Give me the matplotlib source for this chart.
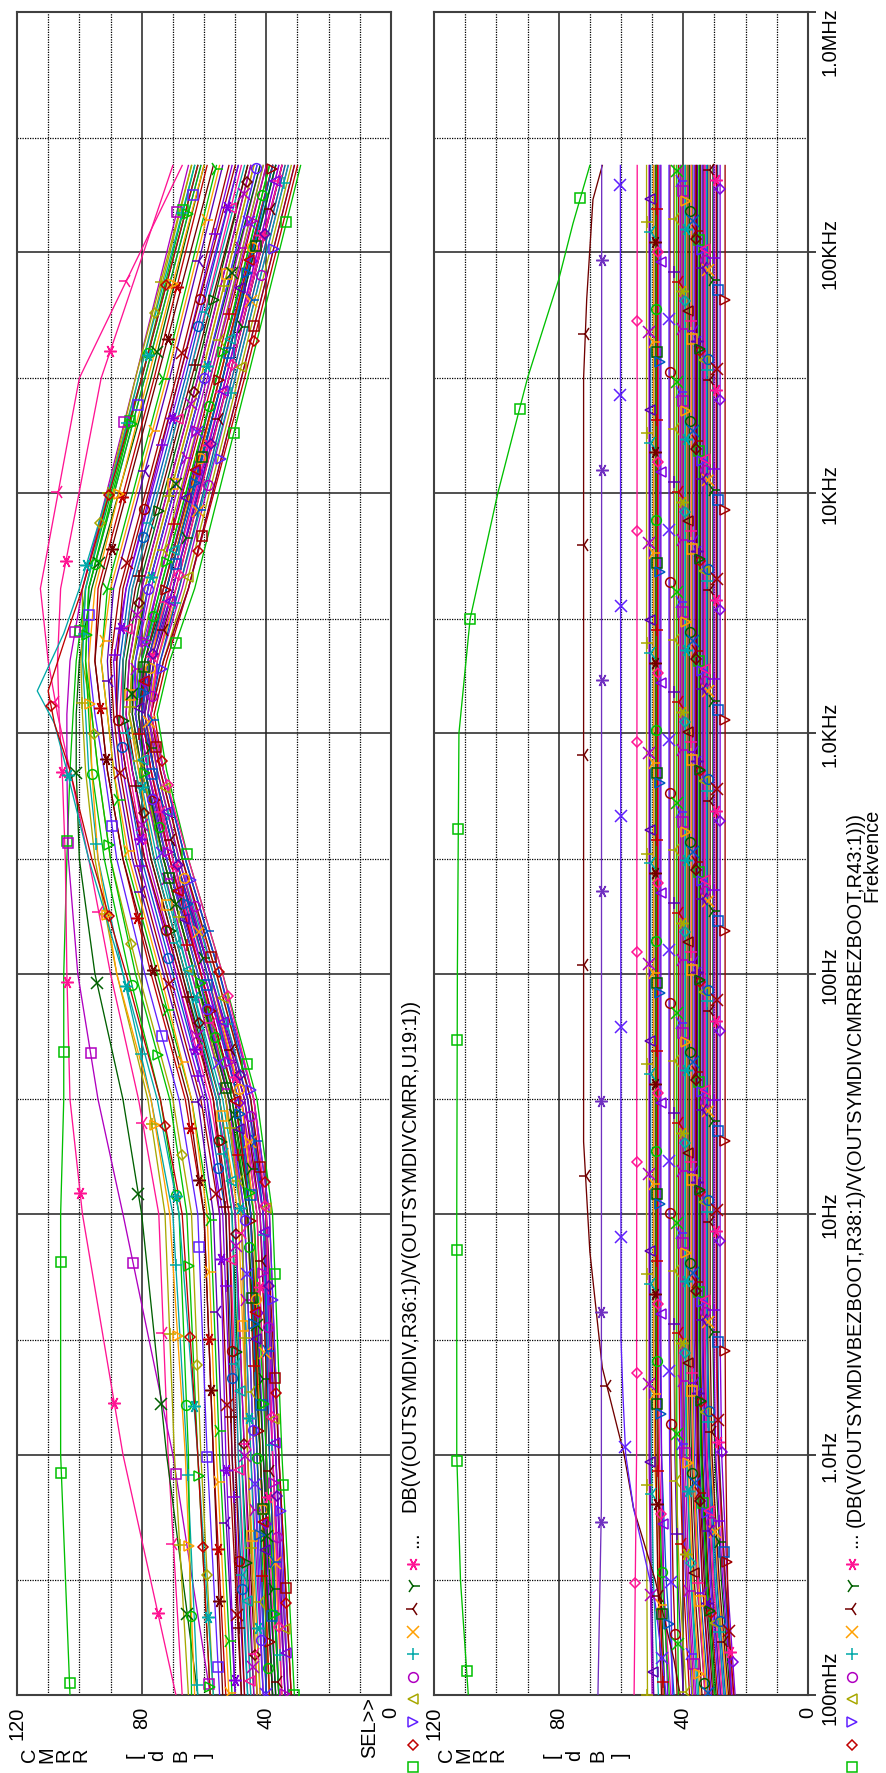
import numpy as np
import matplotlib
matplotlib.use('Agg')
import matplotlib.pyplot as plt
from matplotlib.lines import Line2D
from matplotlib.ticker import NullLocator, FixedLocator
import matplotlib.transforms as mtransforms

plt.rcParams['font.family'] = ['Liberation Sans', 'DejaVu Sans']
FS = 14.4

# ---------------- data: upper plot (CMRR with bootstrap) ----------------
freq_top = [0.1, 1, 10, 30, 100, 300, 700, 1200, 2000, 4000, 30000, 230000]
top_core = [
    [31, 35, 38, 43, 54, 65, 72, 75, 71, 63, 46, 29],
    [32, 36, 39, 44, 55, 66, 73, 76, 72, 65, 47, 30],
    [33, 36, 39, 44, 55, 66, 73, 77, 73, 65, 48, 31],
    [33, 37, 40, 45, 56, 67, 74, 77, 73, 66, 49, 32],
    [34, 38, 41, 46, 57, 67, 74, 78, 74, 67, 50, 33],
    [35, 38, 41, 46, 57, 68, 75, 78, 75, 68, 50, 33],
    [35, 39, 42, 47, 58, 68, 75, 78, 75, 68, 51, 34],
    [36, 39, 42, 47, 58, 69, 76, 79, 76, 69, 52, 35],
    [36, 40, 43, 48, 59, 69, 76, 79, 76, 70, 52, 35],
    [37, 40, 43, 48, 59, 70, 76, 80, 77, 71, 53, 36],
    [37, 41, 44, 49, 60, 70, 77, 80, 77, 71, 54, 37],
    [38, 41, 44, 49, 60, 71, 77, 80, 78, 72, 54, 37],
    [38, 42, 45, 50, 61, 71, 78, 81, 78, 72, 55, 38],
    [38, 42, 45, 50, 61, 72, 78, 81, 79, 73, 56, 38],
    [39, 43, 46, 51, 62, 72, 79, 82, 80, 74, 56, 39],
    [40, 43, 46, 52, 63, 73, 79, 82, 80, 75, 57, 40],
    [40, 44, 47, 52, 63, 73, 79, 82, 81, 75, 58, 41],
    [41, 44, 47, 53, 64, 74, 80, 83, 81, 76, 58, 41],
    [41, 45, 48, 53, 64, 74, 80, 83, 82, 77, 59, 42],
    [42, 45, 48, 54, 65, 75, 81, 84, 82, 78, 60, 43],
    [42, 46, 49, 55, 66, 76, 81, 84, 83, 79, 61, 44],
    [43, 47, 50, 55, 66, 76, 82, 85, 84, 80, 62, 45],
    [44, 48, 51, 56, 67, 77, 83, 86, 85, 81, 63, 46],
    [45, 49, 52, 58, 69, 79, 84, 87, 86, 83, 65, 48],
    [46, 50, 53, 59, 70, 80, 85, 88, 87, 84, 66, 49],
    [47, 51, 54, 60, 71, 81, 86, 88, 89, 85, 68, 51],
    [48, 52, 55, 61, 72, 82, 87, 89, 90, 87, 69, 52],
    [50, 54, 57, 62, 73, 83, 88, 90, 91, 89, 71, 54],
    [51, 55, 58, 64, 75, 85, 89, 91, 93, 91, 73, 56],
    [53, 57, 60, 66, 77, 86, 91, 93, 95, 94, 76, 59],
    [55, 59, 62, 68, 79, 88, 92, 95, 97, 97, 79, 61],
    [57, 61, 64, 70, 81, 90, 94, 96, 99, 99, 81, 64],
    [34, 38, 42, 48, 60, 71, 78, 81, 80, 75, 58, 40],
    [45, 48, 50, 55, 65, 74, 79, 82, 80, 73, 55, 37],
    [39, 42, 44, 48, 58, 68, 75, 79, 77, 72, 55, 38],
    [48, 51, 53, 57, 67, 77, 83, 86, 86, 82, 64, 46],
    [37, 41, 45, 51, 63, 73, 80, 83, 83, 78, 60, 42],
    [43, 46, 48, 52, 61, 70, 77, 80, 78, 71, 53, 35],
    [36, 39, 41, 45, 55, 66, 73, 77, 74, 68, 51, 34],
    [50, 53, 55, 59, 69, 79, 85, 88, 88, 85, 67, 49],
    [32, 36, 40, 45, 56, 67, 74, 77, 73, 65, 48, 31],
    [34, 37, 40, 46, 58, 69, 76, 79, 77, 70, 52, 35],
    [36, 40, 44, 50, 62, 72, 79, 82, 80, 74, 56, 39],
    [39, 42, 45, 50, 61, 71, 77, 80, 79, 73, 55, 38],
    [41, 44, 47, 52, 62, 72, 79, 82, 82, 78, 60, 43],
    [43, 46, 48, 53, 63, 73, 80, 84, 83, 79, 61, 44],
    [44, 47, 50, 56, 68, 78, 83, 85, 84, 80, 62, 45],
    [46, 49, 51, 56, 66, 76, 82, 86, 86, 83, 65, 47],
    [52, 56, 59, 64, 74, 84, 89, 91, 93, 90, 72, 55],
    [54, 57, 60, 65, 76, 86, 91, 93, 95, 93, 75, 57],
    [38, 42, 46, 52, 63, 73, 79, 81, 79, 72, 54, 37],
    [35, 38, 40, 44, 54, 65, 73, 77, 75, 69, 52, 35],
    [40, 43, 45, 49, 59, 69, 76, 80, 78, 72, 54, 38],
    [33, 37, 41, 47, 58, 68, 75, 78, 76, 70, 53, 36],
    [47, 50, 52, 57, 68, 79, 85, 88, 88, 86, 68, 50],
]
# distinct upper-plot traces (own frequency lists)
top_extra_freq = [
    freq_top, freq_top, freq_top, freq_top, freq_top, freq_top,
    freq_top, freq_top, freq_top, freq_top,
    [0.1, 1, 10, 30, 100, 300, 700, 1100, 1500, 2600, 4000, 30000, 230000],
    [0.1, 1, 10, 30, 100, 300, 700, 1100, 1500, 2600, 4000, 30000, 230000],
]
top_extra_db = [
    [103, 106, 106, 105, 105, 104, 103, 102, 101, 98, 80, 63],        # green square
    [69, 86, 99, 103, 104, 104.5, 105.5, 106.5, 107, 106, 93, 70],    # pink star
    [67, 71.5, 74.5, 81, 90, 97, 103, 107, 110, 112.5, 100, 67],      # pink tri
    [58, 70, 86, 94, 100.5, 103.5, 104, 104, 103, 99, 82, 65],        # purple square
    [62, 72, 80, 86, 95, 100, 101, 101, 100, 96, 77, 60],             # dark green x
    [65, 69.5, 72.5, 78, 88, 95, 98, 99, 99.5, 98, 82, 64],           # olive +
    [62, 65.5, 70, 77, 86, 94, 97, 98, 99, 98, 81, 63],               # cyan +
    [64, 65, 68, 74, 84, 92, 96, 97, 98, 97, 80, 62],                 # green circle
    [63, 66, 71, 77, 88, 94, 96, 96.5, 97, 95, 78, 60],               # orange triangle
    [58, 62, 65.5, 71, 82, 90, 94, 96, 98, 97, 79, 61],               # green triangle
    [57, 62, 68, 75, 86, 97, 104, 108, 113.5, 105, 100, 80, 62],      # cyan spike
    [58, 62, 67, 74, 85, 96, 103, 108, 110, 104, 99, 80, 62],         # red spike
]

# ---------------- data: lower plot (without bootstrap) ----------------
freq_bot = [0.1, 0.3, 1, 3, 230000]
bot_core = [
    [51.5, 51.7, 51.8, 51.8, 51.8],
    [50.0, 50.6, 51.0, 51.0, 51.0],
    [48.0, 49.6, 50.3, 50.5, 50.5],
    [46.0, 48.0, 49.2, 49.6, 49.6],
    [47.0, 48.2, 48.8, 49.0, 49.0],
    [45.9, 47.3, 48.2, 48.5, 48.5],
    [44.0, 46.5, 47.7, 48.0, 48.0],
    [43.0, 45.5, 47.0, 47.5, 47.5],
    [45.0, 46.3, 47.0, 47.2, 47.2],
    [42.0, 43.3, 44.0, 44.3, 44.3],
    [40.0, 41.8, 42.7, 43.0, 43.0],
    [41.6, 41.9, 42.1, 42.1, 42.1],
    [38.0, 40.0, 41.1, 41.5, 41.5],
    [37.3, 39.3, 40.6, 41.0, 41.0],
    [37.0, 38.9, 40.1, 40.5, 40.5],
    [36.0, 38.2, 39.5, 40.0, 40.0],
    [35.0, 37.4, 39.0, 39.5, 39.5],
    [34.6, 37.0, 38.6, 39.0, 39.0],
    [34.0, 36.5, 38.0, 38.5, 38.5],
    [33.0, 35.7, 37.4, 38.0, 38.0],
    [33.0, 35.5, 37.0, 37.5, 37.5],
    [32.0, 34.8, 36.5, 37.0, 37.0],
    [31.0, 34.0, 35.9, 36.5, 36.5],
    [31.5, 33.9, 35.5, 36.0, 36.0],
    [30.0, 32.9, 34.9, 35.5, 35.5],
    [30.0, 32.6, 34.4, 35.0, 35.0],
    [29.0, 31.9, 33.9, 34.5, 34.5],
    [28.5, 31.4, 33.4, 34.0, 34.0],
    [28.0, 30.8, 32.9, 33.5, 33.5],
    [27.0, 30.0, 32.3, 33.0, 33.0],
    [27.0, 29.8, 31.9, 32.5, 32.5],
    [26.0, 29.0, 31.3, 32.0, 32.0],
    [25.5, 28.5, 30.8, 31.4, 31.4],
    [25.0, 27.8, 29.9, 30.5, 30.5],
    [24.0, 26.9, 28.9, 29.5, 29.5],
    [24.5, 26.7, 28.5, 29.0, 29.0],
    [23.4, 25.9, 27.7, 28.2, 28.2],
    [25.0, 25.8, 26.4, 26.6, 26.6],
    [49.5, 50.3, 50.7, 50.8, 50.8],
    [44.5, 46.8, 48.2, 48.7, 48.7],
    [46.5, 47.6, 48.1, 48.3, 48.3],
    [43.5, 44.0, 44.4, 44.6, 44.6],
    [39.0, 41.3, 42.5, 42.8, 42.8],
    [36.5, 38.7, 40.2, 40.8, 40.8],
    [35.5, 37.6, 38.9, 39.3, 39.3],
    [32.5, 35.1, 36.8, 37.3, 37.3],
    [30.5, 33.3, 35.2, 35.8, 35.8],
    [29.5, 32.2, 34.1, 34.7, 34.7],
    [27.5, 30.4, 32.6, 33.2, 33.2],
    [26.5, 29.3, 31.6, 32.2, 32.2],
    [24.5, 27.4, 29.6, 30.2, 30.2],
    [23.8, 26.5, 28.7, 29.3, 29.3],
    [28.0, 31.0, 33.0, 33.7, 33.7],
]
bot_extra_freq = [
    [0.1, 0.3, 1, 10, 100, 1000, 3000, 10000, 30000, 77000, 132000, 230000],
    [0.1, 0.14, 0.3, 0.6, 1, 2.3, 7, 20, 30000, 64000, 166000, 230000],
    [0.1, 0.6, 230000],
    [0.1, 0.24, 0.6, 1, 1.8, 3, 230000],
    [0.1, 1, 230000],
]
bot_extra_db = [
    [109, 111.5, 112.7, 112.7, 112.5, 112, 108.4, 99.5, 90, 80, 75.4, 70],
    [41, 43, 49, 56, 59, 66, 70, 72, 72, 71, 69, 66],
    [67.4, 66.3, 66.2],
    [45.5, 49, 56, 58.5, 59.4, 60, 60.2],
    [55.8, 55.0, 54.8],
]

db_ticks = [120, 80, 40, 0]
db_ticklabels = ['120', '80', '40', '0']
freq_ticks = [0.1, 1, 10, 100, 1e3, 1e4, 1e5, 1e6]
freq_ticklabels = ['100mHz', '1.0Hz', '10Hz', '100Hz', '1.0KHz', '10KHz', '100KHz', '1.0MHz']
expr_top = 'DB(V(OUTSYMDIV,R36:1)/V(OUTSYMDIVCMRR,U19:1))'
expr_bot = '(DB(V(OUTSYMDIVBEZBOOT,R38:1)/V(OUTSYMDIVCMRRBEZBOOT,R43:1)))'

# ---------------- styles ----------------
palette = ['#00c000', '#c00000', '#6020ff', '#a8a800', '#b000c0', '#00a8a8',
           '#ffa000', '#700000', '#006000', '#ff1493', '#0058c0', '#8000e0',
           '#a00000', '#5a00b4']
NPAL = len(palette)
AST = (6, 2, 90)
markers = ['s', 'D', '>', '<', 'o', '+', 'x', '3', '4', AST]
msizes = {'s': 6.8, 'D': 5.6, '>': 7.5, '<': 7.5, 'o': 7.0, '+': 9.0, 'x': 8.0,
          '3': 10.5, '4': 10.5}
top_extra_style = [('#00c000', 's'), ('#ff1493', AST), ('#ff1493', '3'), ('#b000c0', 's'),
                   ('#006000', 'x'), ('#a8a800', '+'), ('#00a8a8', '+'), ('#00c000', 'o'),
                   ('#ffa000', '>'), ('#00c000', '>'), ('#00a8a8', AST), ('#c00000', 'D')]
bot_extra_style = [('#00c000', 's'), ('#700000', '3'), ('#7030c0', AST),
                   ('#6020ff', 'x'), ('#ff1493', 'D')]


def msize(m):
    if isinstance(m, tuple):
        return 9.0
    return msizes.get(m, 7.0)


W, H = 887, 1774
fig = plt.figure(figsize=(W / 100, H / 100), dpi=100)
ax_top = fig.add_axes([17 / W, 78 / H, 374 / W, 1683 / H])
ax_bot = fig.add_axes([434 / W, 78 / H, 374 / W, 1683 / H])

STEP = 0.875


def draw_trace(ax, f, v, color, marker, phase):
    ax.plot(v, f, color=color, lw=0.95, zorder=3, solid_joinstyle='round')
    lf = np.log10(f)
    ks = np.arange(lf[0] + phase, lf[-1], STEP)
    mv = np.interp(ks, lf, v)
    ax.plot(mv, 10 ** ks, ls='none', marker=marker, ms=msize(marker), mfc='none',
            mec=color, mew=1.1, zorder=4)


for ax in (ax_top, ax_bot):
    ax.set_yscale('log')
    ax.set_ylim(0.1, 1e6)
    ax.set_xlim(120, 0)
    ax.yaxis.set_minor_locator(NullLocator())
    ax.xaxis.set_minor_locator(NullLocator())
    for s in ax.spines.values():
        s.set_color('#404040')
        s.set_linewidth(1.5)
    for d in [110, 100, 90, 70, 60, 50, 30, 20, 10]:
        ax.axvline(d, color='black', lw=0.9, ls=(0, (1, 1)), zorder=1)
    for d in [80, 40]:
        ax.axvline(d, color='#202020', lw=1.1, zorder=1)
    for f in [0.3, 3, 30, 300, 3e3, 3e4, 3e5]:
        ax.axhline(f, color='black', lw=0.9, ls=(0, (1, 1)), zorder=1)
    for f in [1, 10, 100, 1e3, 1e4, 1e5]:
        ax.axhline(f, color='#202020', lw=1.1, zorder=1)
    ax.set_xticks(db_ticks)
    ax.set_xticklabels(db_ticklabels, rotation=90, fontsize=FS)
    ax.tick_params(axis='x', length=0, pad=8)

ax_top.set_yticks([])
ax_bot.yaxis.tick_right()
ax_bot.yaxis.set_major_locator(FixedLocator(freq_ticks))
ax_bot.set_yticklabels([''] * len(freq_ticks))
ax_bot.tick_params(axis='y', which='major', direction='out', length=5.8,
                   width=1.2, color='#202020')

# traces
for i, row in enumerate(top_core):
    draw_trace(ax_top, freq_top, row, palette[i % NPAL], markers[i % 10], (i * 0.383) % STEP)
for j, (f, v) in enumerate(zip(top_extra_freq, top_extra_db)):
    c, m = top_extra_style[j]
    draw_trace(ax_top, f, v, c, m, (j * 0.29 + 0.05) % STEP)
for i, row in enumerate(bot_core):
    draw_trace(ax_bot, freq_bot, row, palette[(i + 3) % NPAL], markers[(i + 5) % 10], (i * 0.417) % STEP)
for j, (f, v) in enumerate(zip(bot_extra_freq, bot_extra_db)):
    c, m = bot_extra_style[j]
    draw_trace(ax_bot, f, v, c, m, (j * 0.31 + 0.1) % STEP)

# frequency tick labels (lower plot)
ytrans = ax_bot.get_yaxis_transform()
xlab = (830 - 434) / 374
for f, lab in zip(freq_ticks, freq_ticklabels):
    dy = 0
    if f == 1e6:
        dy = -29
    elif f == 0.1:
        dy = 8
    tr = mtransforms.offset_copy(ytrans, fig=fig, x=0, y=dy, units='dots')
    ax_bot.text(xlab, f, lab, transform=tr, rotation=90, ha='center', va='center',
                fontsize=FS, clip_on=False)


def fx(px):
    return px / W


def fy(py):
    return 1 - py / H


# axis titles (letters stacked)
for x0 in (17, 434):
    for k, ch in enumerate('CMRR'):
        fig.text(fx(x0 + 13 + 17 * k), fy(1755), ch, rotation=90, ha='center', va='center', fontsize=FS)
    for k, ch in enumerate('[dB]'):
        fig.text(fx(x0 + 118 + 23 * k), fy(1755), ch, rotation=90, ha='center', va='center', fontsize=FS)

fig.text(fx(370), fy(1697), 'SEL>>', rotation=90, ha='center', va='top', fontsize=FS)

# legend symbols
leg_colors = palette[:10]
leg_y = [1768, 1746, 1723, 1700, 1678, 1655, 1633, 1610, 1587, 1565]
for lx in (413, 852):
    for c, m, yy in zip(leg_colors, markers, leg_y):
        fig.add_artist(Line2D([fx(lx)], [fy(yy)], transform=fig.transFigure, marker=m,
                              ms=msize(m), mfc='none', mec=c, mew=1.1, ls='none'))
    fig.text(fx(lx), fy(1540), '...', rotation=90, ha='center', va='center', fontsize=FS)

fig.text(fx(410), fy(1512), expr_top, rotation=90, ha='center', va='bottom', fontsize=FS)
fig.text(fx(855), fy(1527), expr_bot, rotation=90, ha='center', va='bottom', fontsize=FS)
fig.text(fx(872), fy(855), 'Frekvence', rotation=90, ha='center', va='center', fontsize=FS)

fig.savefig('out.png', dpi=100)
